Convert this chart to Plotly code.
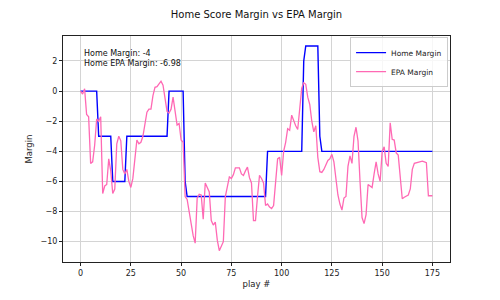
import plotly.graph_objects as go

# Home score margin: change points (play #, margin)
home_play = [0, 8, 9, 15, 16, 22, 23, 43, 44, 51, 52, 53, 92, 93, 110, 111, 112, 118, 119, 120, 175]
home_margin = [0, 0, -3, -3, -6, -6, -3, -3, 0, 0, -6, -7, -7, -4, -4, 2, 3, 3, -3, -4, -4]

# EPA margin per play (0..175)
epa_margin = [
    0, -0.2, 0.15, -1.55, -1.7, -4.8, -4.7, -3.6, -1.85, -2.0,
    -1.7, -6.8, -6.3, -6.2, -4.5, -5.3, -6.8, -6.5, -3.5, -3.0,
    -3.3, -5.2, -5.5, -5.2, -6.0, -6.4, -5.8, -4.5, -3.25, -3.5,
    -3.4, -3.0, -2.2, -1.4, -1.2, -1.2, -0.3, 0.25, 0.3, 0.45,
    0.66, 0.4, -0.5, -1.35, -1.45, -1.2, -0.4, -1.5, -2.25, -2.15,
    -3.25, -3.4, -7.0, -7.2, -7.9, -8.8, -9.6, -10.1, -7.1, -6.85,
    -6.9, -8.5, -6.1, -6.4, -6.7, -8.6, -8.9, -8.7, -9.9, -10.6,
    -10.3, -10.0, -7.0, -6.2, -5.7, -5.8, -5.55, -5.1, -5.1, -5.1,
    -5.5, -5.6, -5.3, -5.05, -5.75, -6.1, -8.6, -8.6, -7.0, -5.6,
    -5.8, -6.1, -7.6, -7.5, -7.7, -7.8, -7.6, -6.0, -4.5, -4.4,
    -5.6, -4.0, -3.4, -2.5, -2.6, -1.6, -2.0, -2.3, -2.55, -1.3,
    0.2, 0.55, 0.45, -0.4, -0.9, -2.0, -2.7, -2.3, -4.4, -5.35,
    -5.4, -5.2, -4.9, -4.6, -4.5, -4.2, -4.7, -5.8, -6.9, -7.5,
    -7.9, -7.1, -7.0, -5.0, -4.3, -4.8, -3.0, -2.4, -3.3, -6.0,
    -8.4, -8.8, -8.2, -6.2, -6.3, -6.4, -5.5, -4.7, -5.5, -6.0,
    -4.0, -3.7, -4.8, -5.0, -2.1, -3.2, -3.25, -4.1, -4.25, -6.0,
    -7.15, -7.05, -7.0, -6.9, -6.5, -5.2, -4.8, -4.75, -4.72, -4.65,
    -4.65, -4.7, -4.75, -6.95, -6.95, -6.95,
]
epa_play = list(range(len(epa_margin)))

x_ticks = [0, 25, 50, 75, 100, 125, 150, 175]
y_ticks = [2, 0, -2, -4, -6, -8, -10]

final_home = -4
final_epa = -6.98

FONT = "DejaVu Sans"

fig = go.Figure()
fig.add_trace(go.Scatter(x=home_play, y=home_margin, mode="lines", name="Home Margin",
                         line=dict(color="#0000ff", width=1.4)))
fig.add_trace(go.Scatter(x=epa_play, y=epa_margin, mode="lines", name="EPA Margin",
                         line=dict(color="#ff69b4", width=1.3)))

axis_common = dict(showline=True, linecolor="#222222", linewidth=1, mirror=True,
                   ticks="outside", ticklen=3, tickcolor="#222222",
                   showgrid=True, gridcolor="#d4d4d4", gridwidth=1, zeroline=False,
                   tickfont=dict(family=FONT, size=8, color="#222222"))

fig.update_layout(
    width=500, height=300,
    margin=dict(l=63, r=50, t=36, b=38),
    paper_bgcolor="white", plot_bgcolor="white",
    title=dict(text="Home Score Margin vs EPA Margin", x=0.5, xref="paper", xanchor="center",
               y=1 - 14 / 300, yref="container", yanchor="middle",
               font=dict(family=FONT, size=10, color="#111111")),
    xaxis=dict(range=[-8.75, 183.75], tickvals=x_ticks,
               title=dict(text="play #", font=dict(family=FONT, size=8.5, color="#222222"), standoff=4),
               **axis_common),
    yaxis=dict(range=[-11.35, 3.66], tickvals=y_ticks,
               title=dict(text="Margin", font=dict(family=FONT, size=8.5, color="#222222"), standoff=6),
               **axis_common),
    legend=dict(x=0.995, y=0.995, xanchor="right", yanchor="top",
                bgcolor="rgba(255,255,255,0.8)", bordercolor="#cccccc", borderwidth=1,
                font=dict(family=FONT, size=7.5, color="#222222"),
                itemwidth=30, tracegroupgap=0),
    showlegend=True,
)

fig.add_annotation(
    x=0.05, y=0.95, xref="paper", yref="paper", xanchor="left", yanchor="top",
    text=f"Home Margin: {final_home}<br>Home EPA Margin: {final_epa}",
    showarrow=False, align="left",
    font=dict(family=FONT, size=8, color="#111111"),
)

fig.write_html("out.html")
